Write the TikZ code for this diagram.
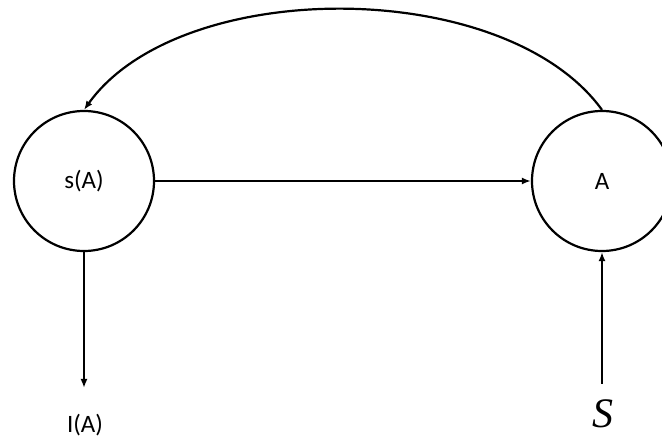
\documentclass[tikz,border=0pt]{standalone}
\usepackage{fontspec}
\setmainfont{Carlito}
\newfontfamily\serifS{Liberation Serif}
\usetikzlibrary{arrows.meta}
\begin{document}
\begin{tikzpicture}[x=1pt,y=-1pt,
  circ/.style={circle,draw,line width=2.2pt,minimum size=140pt,inner sep=0pt,font=\fontsize{25}{28}\selectfont},
  lbl/.style={inner sep=0pt,font=\fontsize{25}{28}\selectfont},
  conn/.style={line width=2.2pt,-{Latex[length=9pt,width=7pt]}}]
\useasboundingbox (0,0) rectangle (662,438);
\clip (0,0) rectangle (662,438);
\node[circ] (sA) at (84,181) {s(A)};
\node[circ] (A) at (602,181) {A};
\coordinate (Iend) at (84,388);
\coordinate (Sstart) at (602,384);
\node[lbl] (IA) at (85,425) {I(A)};
\node[lbl,font=\serifS\itshape\fontsize{42}{44}\selectfont] (S) at (603,414) {S};
\draw[conn] (sA.east) -- (A.west);
\draw[conn] (sA.south) -- (Iend);
\draw[conn] (Sstart) -- (A.south);
\draw[conn] (A.north) .. controls (505,-24) and (180,-24) .. (sA.north);
\end{tikzpicture}
\end{document}
